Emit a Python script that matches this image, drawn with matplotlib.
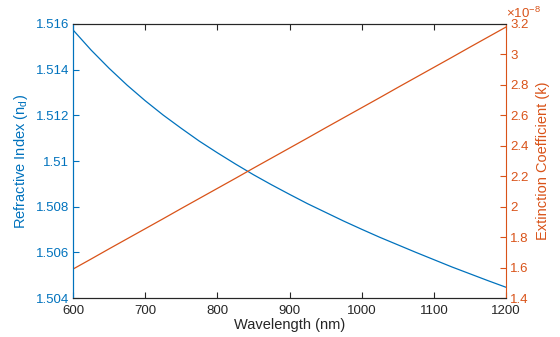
import matplotlib
matplotlib.use("Agg")
import matplotlib.pyplot as plt
from matplotlib.ticker import FuncFormatter

plt.rcParams['font.family'] = ['Liberation Sans', 'DejaVu Sans']

# Wavelength grid (nm)
wavelength = [600, 625, 650, 675, 700, 725, 750, 775, 800, 825, 850, 875, 900,
              925, 950, 975, 1000, 1025, 1050, 1075, 1100, 1125, 1150, 1175, 1200]
# Refractive index n_d
n_d = [1.51574, 1.51486, 1.51406, 1.51332, 1.51264, 1.51201, 1.51143, 1.51087,
       1.51036, 1.50987, 1.50940, 1.50896, 1.50854, 1.50813, 1.50775, 1.50737,
       1.50701, 1.50666, 1.50633, 1.50600, 1.50568, 1.50536, 1.50506, 1.50476,
       1.50447]
# Extinction coefficient k
k = [1.590e-8, 1.656e-8, 1.723e-8, 1.789e-8, 1.855e-8, 1.921e-8, 1.988e-8,
     2.054e-8, 2.120e-8, 2.186e-8, 2.253e-8, 2.319e-8, 2.385e-8, 2.451e-8,
     2.518e-8, 2.584e-8, 2.650e-8, 2.716e-8, 2.783e-8, 2.849e-8, 2.915e-8,
     2.981e-8, 3.048e-8, 3.114e-8, 3.180e-8]

x_ticks = [600, 700, 800, 900, 1000, 1100, 1200]
n_ticks = [1.504, 1.506, 1.508, 1.510, 1.512, 1.514, 1.516]
k_ticks = [1.4e-8, 1.6e-8, 1.8e-8, 2.0e-8, 2.2e-8, 2.4e-8, 2.6e-8, 2.8e-8, 3.0e-8, 3.2e-8]

blue = '#0072BD'
orange = '#D95319'
tick_grey = '#262626'

fig = plt.figure(figsize=(5.6, 3.37), dpi=100)
ax = fig.add_axes([0.1304, 0.1157, 0.7732, 0.8131])
ax2 = ax.twinx()

ax.plot(wavelength, n_d, color=blue, lw=0.9)
ax2.plot(wavelength, k, color=orange, lw=0.9)

ax.set_xlim(600, 1200)
ax.set_ylim(1.504, 1.516)
ax2.set_ylim(1.4e-8, 3.2e-8)
ax.set_xticks(x_ticks)
ax.set_yticks(n_ticks)
ax2.set_yticks(k_ticks)
ax.yaxis.set_major_formatter(FuncFormatter(lambda v, p: '%g' % round(v, 4)))
ax2.yaxis.set_major_formatter(FuncFormatter(lambda v, p: '%g' % round(v * 1e8, 3)))

for a in (ax, ax2):
    a.tick_params(direction='in', length=4, width=0.8, labelsize=9.5)
    for s in a.spines.values():
        s.set_linewidth(0.8)

ax.tick_params(axis='x', colors=tick_grey, top=True, pad=5)
ax.tick_params(axis='y', colors=blue, pad=3)
ax2.tick_params(axis='y', colors=orange, pad=3)
ax2.tick_params(axis='x', top=False)
ax.spines['bottom'].set_color(tick_grey)
ax.spines['top'].set_color(tick_grey)
ax2.spines['top'].set_color(tick_grey)
ax2.spines['bottom'].set_color(tick_grey)
ax2.spines['left'].set_color(blue)
ax2.spines['right'].set_color(orange)
ax.spines['left'].set_color(blue)
ax.spines['right'].set_visible(False)

ax.set_xlabel('Wavelength (nm)', fontsize=10.5, color=tick_grey, labelpad=1)
ax.set_ylabel('Refractive Index (n$_\\mathregular{d}$)', fontsize=10.5, color=blue, labelpad=4)
ax2.set_ylabel('Extinction Coefficient (k)', fontsize=10.5, color=orange, labelpad=5)

ax2.text(1.0, 1.012, '×10$^{\\mathregular{-8}}$', transform=ax2.transAxes,
         color=orange, fontsize=9.5, ha='left', va='bottom')

fig.savefig('out.png', dpi=100)
